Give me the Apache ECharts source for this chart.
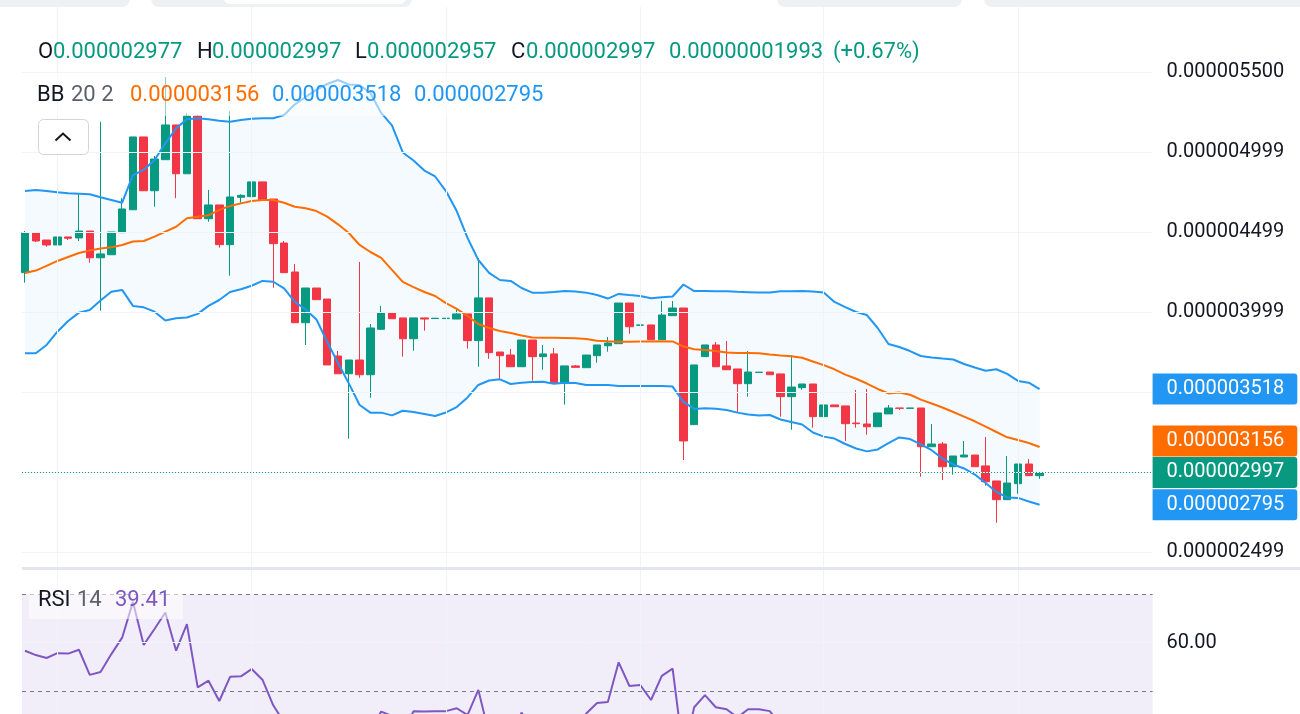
<!DOCTYPE html>
<html>
<head>
<meta charset="utf-8">
<script src="https://cdn.jsdelivr.net/npm/echarts@6/dist/echarts.min.js"></script>
<style>
html,body{margin:0;padding:0;background:#ffffff;}
#chart{width:1300px;height:714px;}
</style>
</head>
<body>
<div id="chart"></div>
<script>
// ---- Data (prices in units of 1e-6) ----
const opens  = [4.246,4.494,4.450,4.419,4.469,4.463,4.506,4.339,4.358,4.496,4.639,5.094,4.758,4.952,5.169,4.864,5.225,4.583,4.669,4.421,4.717,4.721,4.813,4.706,4.431,4.250,3.933,4.150,4.081,3.725,3.614,3.700,3.608,3.892,3.994,3.963,3.833,3.963,3.959,3.959,3.956,3.988,3.821,4.088,3.750,3.731,3.658,3.825,3.721,3.738,3.558,3.663,3.652,3.727,3.789,3.802,4.056,3.917,3.919,3.827,3.977,4.025,3.296,3.721,3.794,3.663,3.644,3.552,3.622,3.625,3.613,3.471,3.527,3.550,3.346,3.419,3.413,3.306,3.300,3.283,3.363,3.400,3.398,3.400,3.158,3.175,3.033,3.094,3.106,3.038,2.944,2.827,2.927,3.050,2.977];
const closes = [4.494,4.444,4.419,4.469,4.461,4.506,4.339,4.363,4.500,4.644,5.094,4.758,4.956,5.169,4.864,5.225,4.583,4.669,4.421,4.719,4.729,4.813,4.702,4.427,4.246,3.933,4.150,4.077,3.669,3.614,3.700,3.608,3.900,3.994,3.958,3.833,3.963,3.956,3.961,3.961,3.988,3.821,4.088,3.746,3.727,3.658,3.825,3.721,3.738,3.558,3.663,3.654,3.731,3.794,3.806,4.056,3.908,3.919,3.827,3.981,4.025,3.194,3.669,3.794,3.658,3.639,3.552,3.625,3.624,3.608,3.471,3.531,3.550,3.346,3.419,3.408,3.302,3.302,3.283,3.369,3.400,3.398,3.400,3.158,3.175,3.033,3.100,3.106,3.033,2.939,2.827,2.931,3.050,2.977,2.997];
const lows   = [4.183,4.438,4.408,4.416,4.450,4.444,4.308,4.008,4.358,4.496,4.639,4.758,4.658,4.952,4.711,4.864,4.583,4.564,4.402,4.227,4.683,4.721,4.702,4.152,4.246,3.933,3.794,4.077,3.669,3.614,3.208,3.589,3.464,3.888,3.958,3.721,3.758,3.883,3.959,3.959,3.956,3.771,3.658,3.708,3.581,3.658,3.658,3.571,3.639,3.558,3.421,3.654,3.652,3.683,3.752,3.802,3.864,3.917,3.827,3.827,3.977,3.075,3.296,3.721,3.658,3.639,3.375,3.471,3.622,3.608,3.346,3.264,3.514,3.277,3.346,3.408,3.194,3.277,3.233,3.283,3.363,3.388,3.398,2.971,3.158,2.950,2.983,3.094,3.033,2.914,2.683,2.827,2.864,2.977,2.957];
const highs  = [4.506,4.500,4.450,4.472,4.469,4.736,4.506,5.189,4.500,4.711,5.094,5.094,4.975,5.469,5.169,5.242,5.231,4.763,4.669,5.256,4.736,4.813,4.813,4.706,4.444,4.300,4.150,4.150,4.081,3.756,3.700,4.313,3.925,4.038,3.994,3.963,3.963,3.963,3.961,3.961,4.017,3.988,4.337,4.088,3.750,3.769,3.825,3.825,3.794,3.775,3.663,3.669,3.731,3.794,3.844,4.056,4.056,3.919,3.919,4.069,4.069,4.025,3.669,3.794,3.813,3.819,3.644,3.756,3.624,3.625,3.613,3.731,3.550,3.550,3.456,3.419,3.413,3.513,3.519,3.369,3.419,3.400,3.400,3.400,3.300,3.188,3.100,3.194,3.106,3.219,2.944,3.100,3.050,3.081,2.997];

const bbUpper  = [4.756,4.763,4.756,4.748,4.742,4.739,4.736,4.717,4.700,4.683,4.856,4.888,4.950,5.054,5.148,5.204,5.211,5.204,5.196,5.189,5.200,5.208,5.211,5.211,5.231,5.298,5.344,5.388,5.425,5.450,5.422,5.419,5.369,5.244,5.166,4.997,4.947,4.884,4.847,4.756,4.631,4.463,4.325,4.244,4.200,4.194,4.150,4.121,4.121,4.125,4.131,4.128,4.121,4.106,4.084,4.113,4.106,4.100,4.086,4.092,4.097,4.172,4.131,4.131,4.130,4.129,4.126,4.124,4.122,4.122,4.129,4.130,4.131,4.128,4.122,4.063,4.031,4.000,3.981,3.900,3.800,3.781,3.756,3.725,3.716,3.709,3.703,3.675,3.653,3.633,3.642,3.613,3.569,3.558,3.518];
const bbMiddle = [4.244,4.259,4.288,4.319,4.344,4.369,4.384,4.397,4.404,4.419,4.441,4.444,4.471,4.502,4.533,4.586,4.596,4.604,4.638,4.663,4.679,4.694,4.700,4.700,4.683,4.658,4.648,4.631,4.596,4.548,4.494,4.419,4.375,4.338,4.263,4.188,4.156,4.125,4.100,4.056,4.019,3.975,3.925,3.900,3.881,3.869,3.853,3.841,3.839,3.839,3.838,3.836,3.831,3.821,3.817,3.814,3.814,3.816,3.816,3.817,3.816,3.784,3.767,3.763,3.756,3.747,3.744,3.743,3.742,3.734,3.728,3.724,3.714,3.691,3.668,3.642,3.609,3.583,3.553,3.519,3.491,3.497,3.483,3.452,3.428,3.403,3.375,3.346,3.317,3.284,3.250,3.217,3.200,3.181,3.156];
const bbLower  = [3.742,3.742,3.794,3.877,3.944,3.996,4.013,4.072,4.127,4.138,4.038,4.029,4.002,3.947,3.961,3.966,3.988,4.038,4.075,4.125,4.142,4.164,4.194,4.189,4.148,4.063,4.016,3.953,3.813,3.681,3.554,3.419,3.371,3.371,3.354,3.383,3.375,3.363,3.350,3.372,3.406,3.466,3.544,3.572,3.579,3.550,3.558,3.563,3.564,3.552,3.558,3.556,3.544,3.544,3.544,3.538,3.538,3.538,3.538,3.538,3.534,3.438,3.394,3.399,3.395,3.388,3.371,3.359,3.353,3.356,3.328,3.313,3.297,3.247,3.221,3.209,3.175,3.147,3.129,3.141,3.181,3.216,3.206,3.172,3.136,3.084,3.047,3.022,2.984,2.931,2.875,2.841,2.838,2.816,2.795];

const rsi = [58.3,57.4,56.8,57.8,57.7,58.5,53.3,53.9,57.6,61.0,68.4,59.5,62.8,66.2,58.3,63.8,50.7,52.1,47.9,52.9,53.0,54.5,52.3,47.0,43.5,38.0,41.0,39.5,33.0,31.0,32.0,31.5,42.0,45.7,44.8,41.5,45.8,45.7,45.8,45.8,46.4,45.0,50.2,41.0,40.5,39.5,45.5,42.0,42.5,39.0,41.5,41.3,45.3,47.5,47.7,55.9,51.0,51.2,48.1,53.1,54.6,37.0,46.6,49.1,46.6,46.2,44.5,46.2,46.2,45.8,43.0,44.5,44.9,41.5,43.5,43.2,40.5,40.4,40.0,43.0,44.3,44.3,44.3,38.5,39.0,36.5,38.0,38.2,36.8,35.0,33.0,35.5,39.0,37.8,39.41];

const yTickValues = [2.5, 4.0, 4.5, 5.0, 5.5];
const yTickLabels = ['0.000002499','0.000003999','0.000004499','0.000004999','0.000005500'];
const priceGridValues = [2.5, 3.0, 3.5, 4.0, 4.5, 5.0, 5.5];
const verticalGridIdx = [3, 21, 39, 57, 74, 92];
const rsiTickValues = [20, 40, 60];
const rsiBandLevels = [70, 50, 30];
const changeText = '0.00000001993 (+0.67%)';

// ---- Styling ----
const FONT = 'Roboto, "Noto Sans", sans-serif';
const GREEN = '#089981', RED = '#F23645', ORANGE = '#FF6D00', BLUE = '#2196F3', PURPLE = '#7E57C2';
const GRID_COLOR = '#f0f3fa';
const X_MIN = -0.278, X_MAX = 104.47;

const N = opens.length;
const fmt = v => (v * 1e-6).toFixed(9);
const pair = arr => arr.map((v, i) => [i, v]);
const candleData = opens.map((o, i) => [i, o, closes[i], lows[i], highs[i]]);
const bandData = bbUpper.map((u, i) => [i, u, bbLower[i]]);

const chart = echarts.init(document.getElementById('chart'), null, {renderer: 'canvas'});

const gridLineData = (yVals) => yVals.map(v => ({yAxis: v})).concat(verticalGridIdx.map(i => ({xAxis: i})));

const option = {
  animation: false,
  backgroundColor: '#ffffff',
  grid: [
    {left: 22, right: 147.4, top: 7, height: 560, containLabel: false, outerBoundsMode: 'none'},
    {left: 22, right: 147.4, top: 570, height: 290, containLabel: false, outerBoundsMode: 'none'}
  ],
  xAxis: [
    {type: 'value', gridIndex: 0, min: X_MIN, max: X_MAX, show: false},
    {type: 'value', gridIndex: 1, min: X_MIN, max: X_MAX, show: false}
  ],
  yAxis: [
    {
      type: 'value', gridIndex: 0, position: 'right', min: 2.40625, max: 5.90625,
      splitLine: {show: false}, axisLine: {show: false}, axisTick: {show: false},
      axisLabel: {
        customValues: yTickValues,
        formatter: v => { const k = yTickValues.indexOf(v); return k >= 0 ? yTickLabels[k] : ''; },
        margin: 14, color: '#131722', fontSize: 20, fontFamily: FONT
      }
    },
    {
      type: 'value', gridIndex: 1, position: 'right', min: 15, max: 75,
      splitLine: {show: false}, axisLine: {show: false}, axisTick: {show: false},
      axisLabel: {
        customValues: rsiTickValues,
        formatter: v => v.toFixed(2),
        margin: 14, color: '#131722', fontSize: 20, fontFamily: FONT
      }
    }
  ],
  series: [
    // price pane grid lines
    {
      type: 'line', xAxisIndex: 0, yAxisIndex: 0, data: [], z: 0, silent: true,
      markLine: {silent: true, symbol: 'none', animation: false, label: {show: false},
        emphasis: {disabled: true},
        lineStyle: {color: GRID_COLOR, width: 1, type: 'solid'},
        data: gridLineData(priceGridValues)}
    },
    // Bollinger fill between upper and lower band
    {
      type: 'custom', xAxisIndex: 0, yAxisIndex: 0, data: bandData, z: 1, silent: true,
      encode: {x: 0, y: [1, 2]},
      renderItem: (params, api) => {
        if (params.dataIndex !== 0) return null;
        const up = bbUpper.map((v, i) => api.coord([i, v]));
        const lo = bbLower.map((v, i) => api.coord([i, v])).reverse();
        return {type: 'polygon', shape: {points: up.concat(lo)},
          style: {fill: 'rgba(33,150,243,0.05)'}};
      }
    },
    // Candles
    {
      type: 'candlestick', xAxisIndex: 0, yAxisIndex: 0, data: candleData,
      encode: {x: 0, y: [1, 2, 3, 4]},
      barWidth: 8, z: 2, silent: true,
      itemStyle: {color: GREEN, color0: RED, borderColor: GREEN, borderColor0: RED, borderWidth: 1},
      markLine: {silent: true, symbol: 'none', animation: false, label: {show: false},
        lineStyle: {color: GREEN, width: 1, type: [1, 2]},
        data: [{yAxis: closes[N - 1]}]}
    },
    // BB lines
    {type: 'line', xAxisIndex: 0, yAxisIndex: 0, data: pair(bbMiddle), symbol: 'none', silent: true, z: 3,
      lineStyle: {color: ORANGE, width: 2}},
    {type: 'line', xAxisIndex: 0, yAxisIndex: 0, data: pair(bbUpper), symbol: 'none', silent: true, z: 3,
      lineStyle: {color: BLUE, width: 2}},
    {type: 'line', xAxisIndex: 0, yAxisIndex: 0, data: pair(bbLower), symbol: 'none', silent: true, z: 3,
      lineStyle: {color: BLUE, width: 2}},
    // RSI pane: grid lines, band fill, dashed levels
    {
      type: 'line', xAxisIndex: 1, yAxisIndex: 1, data: [], z: 0, silent: true,
      markArea: {silent: true, itemStyle: {color: 'rgba(126,87,194,0.1)'},
        data: [[{yAxis: rsiBandLevels[0]}, {yAxis: rsiBandLevels[2]}]]},
      markLine: {silent: true, symbol: 'none', animation: false, label: {show: false},
        lineStyle: {color: GRID_COLOR, width: 1, type: 'solid'},
        data: gridLineData(rsiTickValues)}
    },
    {
      type: 'line', xAxisIndex: 1, yAxisIndex: 1, data: [], z: 1, silent: true,
      markLine: {silent: true, symbol: 'none', animation: false, label: {show: false},
        lineStyle: {color: '#787B86', width: 1, type: [4, 4]},
        data: rsiBandLevels.map(v => ({yAxis: v}))}
    },
    {type: 'line', xAxisIndex: 1, yAxisIndex: 1, data: pair(rsi), symbol: 'none', silent: true, z: 3,
      lineStyle: {color: PURPLE, width: 2}}
  ]
};
chart.setOption(option);

// ---- Overlays: legends, badges, toolbar bits ----
const txt = (x, y, text, fill, size) => ({
  type: 'text', x: x, y: y, z: 30, silent: true,
  style: {text: text, fill: fill, fontSize: size || 22, fontFamily: FONT, verticalAlign: 'middle', align: 'left'}
});
const gridRightPx = chart.convertToPixel({xAxisIndex: 0}, X_MAX);
const gridLeftPx = chart.convertToPixel({xAxisIndex: 0}, X_MIN);
const py = v => chart.convertToPixel({yAxisIndex: 0}, v);
const badge = (v, color, dy) => ({
  type: 'text', x: gridRightPx, y: py(v) + dy, z: 40, silent: true,
  style: {text: fmt(v), fill: '#ffffff', fontSize: 20, fontFamily: FONT, lineHeight: 23,
    backgroundColor: color, padding: [4, 13, 4, 14], borderRadius: [0, 3, 3, 0],
    verticalAlign: 'middle', align: 'left'}
});
const rect = (x, y, w, h, fill, r, z, extra) => Object.assign({
  type: 'rect', z: z || 20, silent: true, shape: {x: x, y: y, width: w, height: h, r: r || 0},
  style: {fill: fill}
}, extra || {});

const ROW1 = 52, ROW2 = 95, ROW_RSI = 600;
const graphics = [
  // top toolbar fragments
  rect(-10, -20, 140, 27, '#eef1f4', 8, 5),
  rect(151, -20, 261, 27, '#eef1f4', 8, 5),
  rect(224, -20, 182, 24, '#ffffff', 6, 6),
  rect(777, -20, 185, 27, '#eef1f4', 8, 5),
  rect(984, -20, 330, 27, '#eef1f4', 8, 5),
  // pane separator
  rect(gridLeftPx, 567, 1300 - gridLeftPx, 3, '#e3e6ed', 0, 25),
  // legend backdrops
  rect(29, 74, 526, 42, 'rgba(255,255,255,0.55)', 0, 20),
  rect(29, 582, 154, 37, 'rgba(255,255,255,0.55)', 0, 20),
  // header row 1
  txt(38, ROW1, 'O', '#131722'), txt(53, ROW1, fmt(opens[N - 1]), GREEN),
  txt(197, ROW1, 'H', '#131722'), txt(212, ROW1, fmt(highs[N - 1]), GREEN),
  txt(355, ROW1, 'L', '#131722'), txt(367, ROW1, fmt(lows[N - 1]), GREEN),
  txt(511, ROW1, 'C', '#131722'), txt(526, ROW1, fmt(closes[N - 1]), GREEN),
  txt(669, ROW1, changeText.split(' ')[0], GREEN), txt(833, ROW1, changeText.split(' ')[1], GREEN),
  // header row 2
  txt(37, ROW2, 'BB', '#131722'), txt(71, ROW2, '20 2', '#5d606b'),
  txt(130, ROW2, fmt(bbMiddle[N - 1]), ORANGE),
  txt(272, ROW2, fmt(bbUpper[N - 1]), BLUE),
  txt(414, ROW2, fmt(bbLower[N - 1]), BLUE),
  // collapse button
  rect(38.5, 119.5, 50, 35, '#ffffff', 5, 30, {style: {fill: '#ffffff', stroke: '#d1d4dc', lineWidth: 1}}),
  {type: 'polyline', z: 31, silent: true, shape: {points: [[55.5, 140.5], [63, 133.5], [70.5, 140.5]]},
    style: {stroke: '#131722', lineWidth: 2, fill: null}},
  // RSI legend
  txt(38, ROW_RSI, 'RSI', '#131722'), txt(77, ROW_RSI, '14', '#5d606b'), txt(115, ROW_RSI, rsi[N - 1].toFixed(2), PURPLE),
  // right-hand price badges
  badge(bbUpper[N - 1], BLUE, 0),
  badge(bbLower[N - 1], BLUE, 0),
  badge(bbMiddle[N - 1], ORANGE, -6),
  badge(closes[N - 1], GREEN, 0)
];
chart.setOption({graphic: graphics});
</script>
</body>
</html>
